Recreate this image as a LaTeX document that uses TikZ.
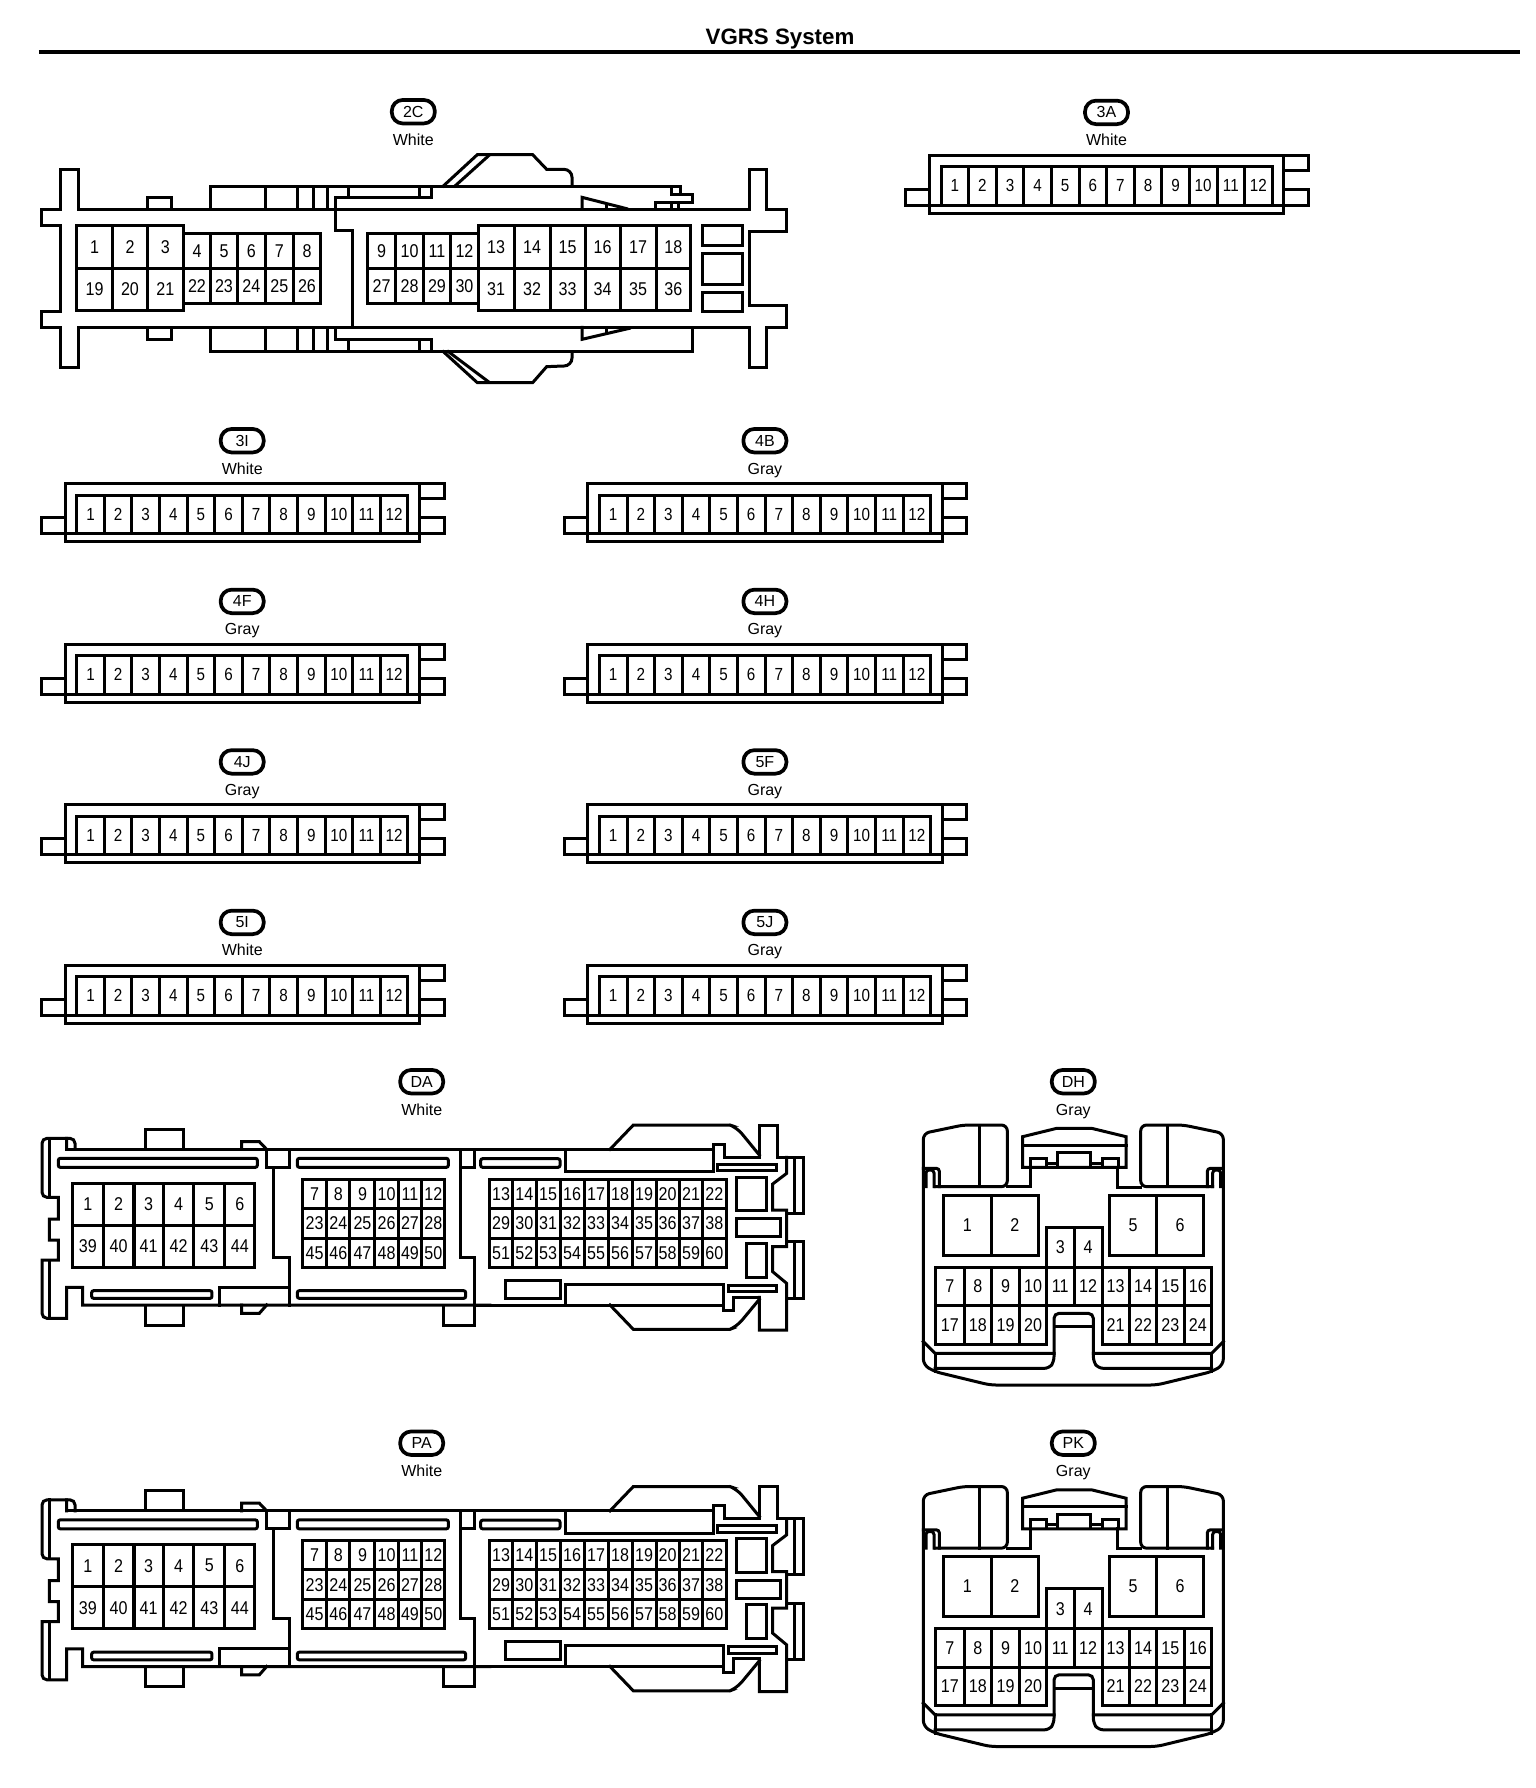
\documentclass[tikz,border=0pt]{standalone}
\usepackage{fontspec}
\setmainfont{Liberation Sans}
\newfontfamily\pinfam[FakeStretch=0.87]{Liberation Sans}
\newcounter{pinc}
\tikzset{
  ln/.style={line width=3pt,line join=miter,line cap=rect},
  pinbig/.style={font=\pinfam\fontsize{18.5}{20}\selectfont,inner sep=0pt},
  pinsmall/.style={font=\pinfam\fontsize{17.5}{20}\selectfont,inner sep=0pt},
  pill/.style={draw,line width=3.7pt,rounded corners=11pt,minimum width=43pt,minimum height=23.5pt,inner sep=0pt,font=\fontsize{16}{18}\selectfont},
  collab/.style={anchor=base,inner sep=0pt,font=\fontsize{16}{18}\selectfont},
  zoomed/.style={x=0.33333pt,y=-0.33333pt}
}
% consecutive numbered cells: x boundaries, top, bottom, first number
\newcommand\pinrow[5][pinbig]{%
  \foreach \xb [count=\k from 0, remember=\xb as \xa (initially 0)] in {#2}{%
    \ifnum\k>0
      \pgfmathtruncatemacro\lab{#5+\k-1}%
      \stepcounter{pinc}%
      \draw[ln] (\xa,#3) rectangle (\xb,#4);
      \node[#1] (pin\arabic{pinc}) at ({(\xa+\xb)/2},{(#3+#4)/2}) {\lab};
    \fi
  }%
}
\newcommand\conlabel[6]{%
  \node[pill] (lab#1) at (#2,#3) {#5};
  \node[collab] (col#1) at (#2,#4) {#6};
}
% 12 pin connector
\newcommand\twelve[5]{%
  \begin{scope}[shift={(#2,#3)}]
    \draw[ln] (0,0) rectangle (354.5,58.3);
    \draw[ln] (0,34.3) -- (-23.5,34.3) -- (-23.5,50) -- (379,50) -- (379,34.3) -- (354.5,34.3);
    \draw[ln] (354.5,0) -- (379,0) -- (379,15) -- (354.5,15);
    \pinrow[pinsmall]{11.7,39.3,66.9,94.5,122.1,149.7,177.3,204.9,232.5,260.1,287.7,315.3,342.9}{11.7}{50}{1}
    \conlabel{#1}{177.2}{-42.6}{-9.2}{#4}{#5}
  \end{scope}
}
% DA / PA connector
\newcommand\daconn{%
  \begin{scope}[shift={(20,1040)},zoomed]
    \draw[ln] (140,328) -- (140,295) -- (80,295) [rounded corners=5pt] -- (66,295) -- (66,472) [sharp corners] -- (115,472) -- (115,537) -- (88,537) -- (88,600) -- (115,600) -- (115,660) -- (66,660) [rounded corners=5pt] -- (66,835) [sharp corners] -- (140,835) -- (140,742) -- (188,742) -- (188,795) -- (1410,795);
    \draw[ln] (88,295) -- (88,472);
    \draw[ln] (88,660) -- (88,835);
    \draw[ln,rounded corners=5pt] (140,295) -- (165,295) -- (165,328);
    \draw[ln] (140,328) -- (1400,328);
    \draw[ln] (378,328) -- (378,268) -- (492,268) -- (492,328);
    \draw[ln] (378,795) -- (378,856) -- (492,856) -- (492,795);
    \draw[ln] (665,328) -- (665,305) -- (718,305) -- (740,328);
    \draw[ln] (665,795) -- (665,820) -- (718,820) -- (740,795);
    \draw[ln,rounded corners=2pt] (115,355) rectangle (712,382);
    \draw[ln,rounded corners=2pt] (215,752) rectangle (576,775);
    \draw[ln] (740,328) -- (740,382) -- (808,382) -- (808,328);
    \draw[ln] (760,382) -- (760,652) -- (808,652) -- (808,795);
    \draw[ln] (600,795) -- (600,742) -- (808,742);
    \draw[ln,rounded corners=2pt] (832,355) rectangle (1285,382);
    \draw[ln,rounded corners=2pt] (832,752) rectangle (1337,775);
    \pinrow{157,250,342,430,522,614,705}{430}{555}{1}
    \pinrow{157,250,342,430,522,614,705}{555}{682}{39}
    \pinrow{848,920,990,1065,1135,1205,1275}{418}{505}{7}
    \pinrow{848,920,990,1065,1135,1205,1275}{505}{595}{23}
    \pinrow{848,920,990,1065,1135,1205,1275}{595}{682}{45}
  \end{scope}
  \begin{scope}[shift={(420,1040)},zoomed]
    \draw[ln] (0,328) -- (880,328) -- (880,312) -- (912,312) -- (912,352) -- (1018,352);
    \draw[ln] (120,328) -- (120,652) -- (162,652) -- (162,855) -- (70,855) -- (70,795);
    \draw[ln] (120,382) -- (162,382) -- (162,328);
    \draw[ln] (162,795) -- (910,795) -- (910,812) -- (940,812) -- (940,772) -- (1018,772);
    \draw[ln,rounded corners=2pt] (182,356) rectangle (420,382);
    \draw[ln] (435,328) -- (435,395) -- (880,395) -- (880,328);
    \draw[ln] (435,795) -- (435,732) -- (910,732) -- (910,795);
    \draw[ln] (255,720) rectangle (420,775);
    \draw[ln] (570,328) -- (640,255) -- (930,255) [rounded corners=8pt] -- (950,262) [sharp corners] -- (1018,345);
    \draw[ln] (570,795) -- (640,868) -- (930,868) [rounded corners=8pt] -- (950,860) [sharp corners] -- (1018,778);
    \draw[ln] (1018,352) -- (1018,255) -- (1072,255) -- (1072,352) -- (1150,352) -- (1150,520) -- (1100,520);
    \draw[ln] (1100,352) -- (1100,400) -- (1058,432) -- (1058,510) -- (1100,510) -- (1100,620) -- (1058,620) -- (1058,695) -- (1100,730) -- (1100,870) -- (1018,870) -- (1018,772);
    \draw[ln] (1122,352) -- (1122,520);
    \draw[ln] (1100,605) -- (1150,605) -- (1150,775) -- (1100,775);
    \draw[ln] (1122,605) -- (1122,775);
    \draw[ln] (892,372) rectangle (1068,392);
    \draw[ln] (925,735) rectangle (1068,755);
    \draw[ln] (950,412) rectangle (1038,512);
    \draw[ln] (950,536) rectangle (1080,590);
    \draw[ln] (978,610) rectangle (1038,712);
    \pinrow{208,278,348,420,492,564,636,708,778,848,918}{418}{505}{13}
    \pinrow{208,278,348,420,492,564,636,708,778,848,918}{505}{595}{29}
    \pinrow{208,278,348,420,492,564,636,708,778,848,918}{595}{682}{51}
  \end{scope}
}
% DH / PK connector
\newcommand\dhconn{%
  \begin{scope}[shift={(890,1040)},zoomed]
    \draw[ln,rounded corners=6pt] (135,440) -- (352,440) -- (352,255) -- (220,255) -- (100,280) -- (100,975) -- (135,995) -- (300,1035) -- (800,1035) -- (965,995) -- (1000,975) -- (1000,280) -- (880,255) -- (752,255) -- (752,440) -- (968,440);
    \draw[ln] (268,255) -- (268,440);
    \draw[ln] (832,255) -- (832,440);
    \draw[ln] (352,440) -- (420,440) -- (420,382);
    \draw[ln] (682,382) -- (682,442) -- (752,442);
    \draw[ln] (398,382) -- (398,290) -- (500,265) -- (605,265) -- (708,290) -- (708,382) -- cycle;
    \draw[ln] (398,315) -- (708,315);
    \draw[ln] (420,382) -- (420,355) -- (468,355) -- (468,382);
    \draw[ln] (636,382) -- (636,355) -- (684,355) -- (684,382);
    \draw[ln] (502,382) -- (502,338) -- (602,338) -- (602,382);
    \draw[ln] (468,370) -- (502,370);
    \draw[ln] (602,370) -- (636,370);
    \draw[ln,rounded corners=3pt] (100,385) -- (148,385) -- (148,440);
    \draw[ln,rounded corners=3pt] (108,440) -- (108,390) -- (132,390) -- (132,440);
    \draw[ln,rounded corners=3pt] (1000,385) -- (952,385) -- (952,440);
    \draw[ln,rounded corners=3pt] (992,440) -- (992,390) -- (968,390) -- (968,440);
    \pinrow{160,304,445}{465}{645}{1}
    \pinrow{470,552,636}{562}{682}{3}
    \pinrow{658,800,940}{465}{645}{5}
    \pinrow{137,222,305,388,470,552,636,718,800,882,965}{682}{797}{7}
    \pinrow{137,222,305,388,470}{797}{913}{17}
    \pinrow{636,718,800,882,965}{797}{913}{21}
    \draw[ln,rounded corners=5pt] (135,985) -- (478,985) -- (492,965) -- (492,820) -- (610,820) -- (610,965) -- (625,985) -- (965,985);
    \draw[ln] (492,860) -- (610,860);
    \draw[ln] (100,905) -- (135,940) -- (492,940);
    \draw[ln] (1000,905) -- (965,940) -- (610,940);
    \draw[ln] (135,940) -- (135,995);
    \draw[ln] (965,940) -- (965,995);
  \end{scope}
}
\begin{document}
\begin{tikzpicture}[x=1pt,y=-1pt]
  \useasboundingbox (0,0) rectangle (1536,1788);
  \fill[white] (0,0) rectangle (1536,1788);
  \node[inner sep=0pt,font=\bfseries\fontsize{22.3}{24}\selectfont] (title) at (780,39) {VGRS System};
  \coordinate (ruleL) at (38.8,52);
  \coordinate (ruleR) at (1520,52);
  \draw[line width=4pt] (ruleL) -- (ruleR);

  % 2C
  \conlabel{2C}{413.3}{111.7}{145}{2C}{White}
  \begin{scope}[shift={(20,80)},zoomed]
    \draw[ln] (174,388) -- (174,268) -- (122,268) -- (122,388) -- (64,388) -- (64,436) -- (122,436) -- (122,694) -- (64,694) -- (64,742) -- (122,742) -- (122,862) -- (174,862) -- (174,742);
    \draw[ln] (174,388) -- (1300,388);
    \draw[ln] (174,742) -- (1300,742);
    \draw[ln] (382,388) -- (382,352) -- (455,352) -- (455,388);
    \draw[ln] (382,742) -- (382,778) -- (455,778) -- (455,742);
    \draw[ln] (572,388) -- (572,318) -- (1300,318);
    \draw[ln] (736,318) -- (736,388);
    \draw[ln] (832,318) -- (832,388);
    \draw[ln] (880,318) -- (880,388);
    \draw[ln] (922,318) -- (922,388);
    \draw[ln] (985,318) -- (985,352);
    \draw[ln] (1198,318) -- (1198,352);
    \draw[ln] (1235,318) -- (1235,352) -- (948,352) -- (948,452) -- (998,452) -- (998,742);
    \draw[ln] (572,742) -- (572,815) -- (1300,815);
    \draw[ln] (736,742) -- (736,815);
    \draw[ln] (832,742) -- (832,815);
    \draw[ln] (880,742) -- (880,815);
    \draw[ln] (922,742) -- (922,815);
    \draw[ln] (948,742) -- (948,778) -- (1235,778) -- (1235,815);
    \draw[ln] (985,778) -- (985,815);
    \draw[ln] (1198,778) -- (1198,815);
    \pinrow{170,278,382,490}{436}{565}{1}
    \pinrow{170,278,382,490}{565}{692}{19}
    \pinrow{490,572,652,736,820,902}{460}{565}{4}
    \pinrow{490,572,652,736,820,902}{565}{670}{22}
    \pinrow{1042,1128,1210,1292,1375}{460}{565}{9}
    \pinrow{1042,1128,1210,1292,1375}{565}{670}{27}
  \end{scope}
  \begin{scope}[shift={(400,80)},zoomed]
    \draw[ln] (100,318) -- (840,318) -- (840,342) -- (876,342) -- (876,366) -- (765,366) -- (765,388);
    \draw[ln] (815,318) -- (815,342) -- (840,342);
    \draw[ln] (815,366) -- (815,388);
    \draw[ln] (835,366) -- (835,388);
    \draw[ln] (100,388) -- (1048,388) -- (1048,268) -- (1098,268) -- (1098,388) -- (1158,388) -- (1158,455) -- (1048,455) -- (1048,677) -- (1158,677) -- (1158,742) -- (1098,742) -- (1098,862) -- (1048,862) -- (1048,742) -- (100,742);
    \draw[ln] (130,318) -- (232,224) -- (398,224) -- (440,268) -- (490,268) [rounded corners=8pt] -- (516,268) [sharp corners] -- (516,318);
    \draw[ln] (165,318) -- (265,228);
    \draw[ln] (546,388) -- (546,352) -- (680,386);
    \draw[ln] (620,372) -- (620,388);
    \draw[ln] (876,742) -- (876,815) -- (100,815);
    \draw[ln] (546,742) -- (546,778) -- (688,745);
    \draw[ln] (620,760) -- (620,742);
    \draw[ln] (130,815) -- (232,908) -- (398,908) -- (440,860) -- (490,858) [rounded corners=8pt] -- (516,858) [sharp corners] -- (516,815);
    \draw[ln] (145,815) -- (265,905);
    \draw[ln] (906,436) rectangle (1026,495);
    \draw[ln] (906,520) rectangle (1026,612);
    \draw[ln] (906,636) rectangle (1026,694);
    \pinrow{235,342,450,555,660,768,872}{436}{565}{13}
    \pinrow{235,342,450,555,660,768,872}{565}{692}{31}
  \end{scope}

  \twelve{3A}{929.3}{155}{3A}{White}
  \twelve{3I}{65}{483.3}{3I}{White}
  \twelve{4B}{587.7}{483.3}{4B}{Gray}
  \twelve{4F}{65}{644}{4F}{Gray}
  \twelve{4H}{587.7}{644}{4H}{Gray}
  \twelve{4J}{65}{804.5}{4J}{Gray}
  \twelve{5F}{587.7}{804.5}{5F}{Gray}
  \twelve{5I}{65}{965}{5I}{White}
  \twelve{5J}{587.7}{965}{5J}{Gray}

  \conlabel{DA}{421.7}{1081.7}{1115}{DA}{White}
  \daconn
  \conlabel{DH}{1073.3}{1081.7}{1115}{DH}{Gray}
  \dhconn
  \conlabel{PA}{421.7}{1443.2}{1476.5}{PA}{White}
  \begin{scope}[shift={(0,361.5)}]
    \daconn
  \end{scope}
  \conlabel{PK}{1073.3}{1443.2}{1476.5}{PK}{Gray}
  \begin{scope}[shift={(0,361.5)}]
    \dhconn
  \end{scope}
\end{tikzpicture}
\end{document}
